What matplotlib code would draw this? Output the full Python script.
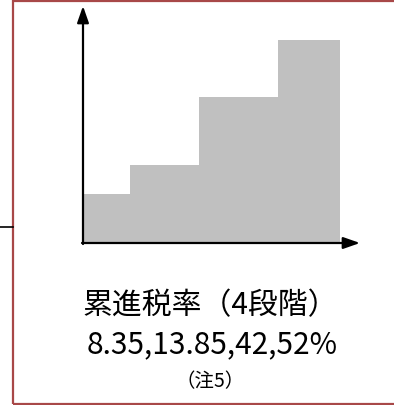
import matplotlib.pyplot as plt
from matplotlib.patches import Rectangle

plt.rcParams['font.family'] = ['Noto Sans CJK JP', 'DejaVu Sans']

# step chart: bracket edges and schematic heights (pixel-like units)
step_edges = [0, 47, 116, 195, 257]
step_heights = [49, 78, 146, 203]
title = '累進税率（4段階）'
rates = '8.35,13.85,42,52%'
note = '（注5）'

W, H = 394, 406
fig = plt.figure(figsize=(W / 100, H / 100), dpi=100)


def fx(px):
    return px / W


def fy(py):
    return 1 - py / H


# outer frame (right edge runs off the picture)
fig.patches.append(Rectangle((fx(13), fy(405)), fx(430) - fx(13), fy(2) - fy(405),
                             transform=fig.transFigure, fill=False,
                             edgecolor='#A84848', linewidth=1.6, clip_on=False))
# connector line coming in from the left
fig.add_artist(plt.Line2D([0, fx(13)], [fy(228), fy(228)],
                          transform=fig.transFigure, color='black', linewidth=1.2))

# chart axes: origin at (83, 244) px, to (360, 7) px
x0, y0, x1, y1 = 83, 244, 360, 7
ax = fig.add_axes([fx(x0), fy(y0), fx(x1) - fx(x0), fy(y1) - fy(y0)])
ax.set_xlim(0, x1 - x0)
ax.set_ylim(0, y0 - y1)
ax.axis('off')

widths = [b - a for a, b in zip(step_edges[:-1], step_edges[1:])]
ax.bar(step_edges[:-1], step_heights, width=widths, align='edge',
       color='#C0C0C0', linewidth=0)

arrow = dict(arrowstyle='-|>,head_length=1.0,head_width=0.35', color='black',
             linewidth=1.6, shrinkA=0, shrinkB=0)
ax.annotate('', xy=(0, y0 - y1), xytext=(0, -1), arrowprops=arrow,
            annotation_clip=False)
ax.annotate('', xy=(x1 - x0, 0), xytext=(-1, 0), arrowprops=arrow,
            annotation_clip=False)

fig.text(fx(210), fy(306), title, fontsize=21.5, ha='center', va='center')
fig.text(fx(212), fy(345), rates, fontsize=21.5, ha='center', va='center')
fig.text(fx(210), fy(382), note, fontsize=14, ha='center', va='center')

fig.savefig('out.png', dpi=100)
